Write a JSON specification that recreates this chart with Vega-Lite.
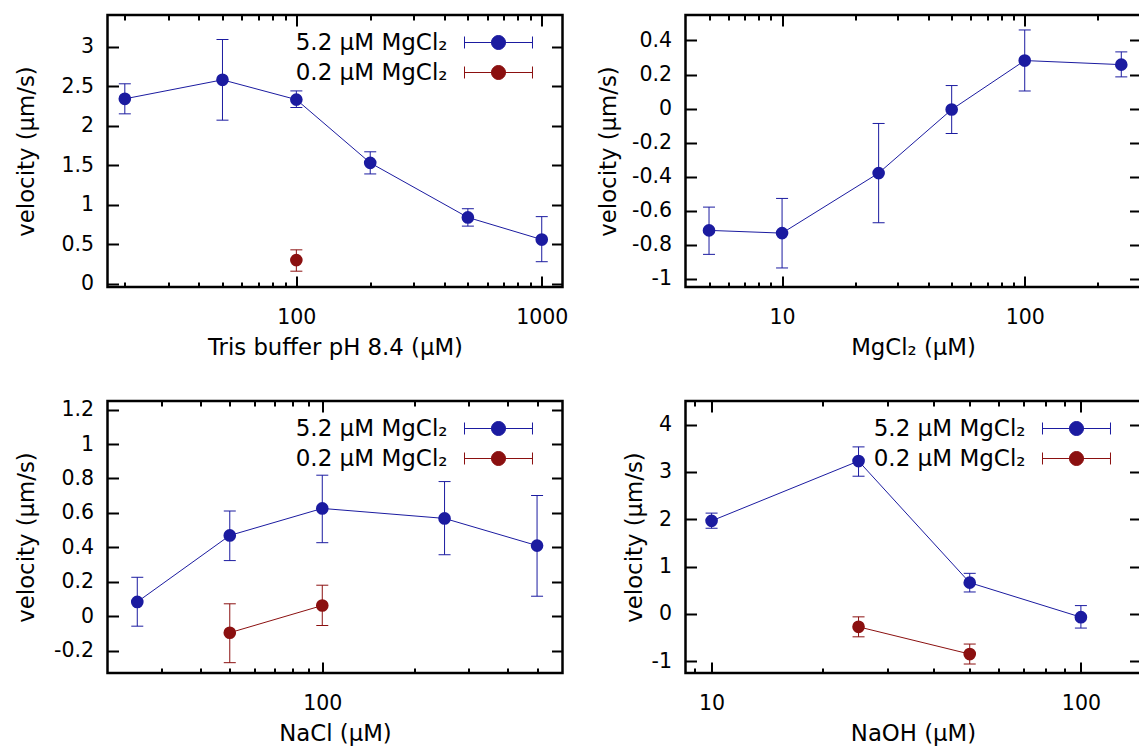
{
  "$schema": "https://vega.github.io/schema/vega-lite/v6.json",
  "padding": {"left": 13.5, "top": 12, "right": 0, "bottom": 0},
  "data": {"values": [
    {"p": 1, "s": "5.2 μM MgCl₂", "x": 20, "v": 2.34, "lo": 2.15, "hi": 2.53},
    {"p": 1, "s": "5.2 μM MgCl₂", "x": 50, "v": 2.58, "lo": 2.07, "hi": 3.09},
    {"p": 1, "s": "5.2 μM MgCl₂", "x": 100, "v": 2.33, "lo": 2.23, "hi": 2.44},
    {"p": 1, "s": "5.2 μM MgCl₂", "x": 200, "v": 1.53, "lo": 1.39, "hi": 1.67},
    {"p": 1, "s": "5.2 μM MgCl₂", "x": 500, "v": 0.84, "lo": 0.73, "hi": 0.95},
    {"p": 1, "s": "5.2 μM MgCl₂", "x": 1000, "v": 0.56, "lo": 0.28, "hi": 0.85},
    {"p": 1, "s": "0.2 μM MgCl₂", "x": 100, "v": 0.30, "lo": 0.16, "hi": 0.43},
    {"p": 2, "s": "5.2 μM MgCl₂", "x": 5, "v": -0.717, "lo": -0.858, "hi": -0.58},
    {"p": 2, "s": "5.2 μM MgCl₂", "x": 10, "v": -0.733, "lo": -0.938, "hi": -0.529},
    {"p": 2, "s": "5.2 μM MgCl₂", "x": 25, "v": -0.38, "lo": -0.672, "hi": -0.088},
    {"p": 2, "s": "5.2 μM MgCl₂", "x": 50, "v": -0.006, "lo": -0.147, "hi": 0.135},
    {"p": 2, "s": "5.2 μM MgCl₂", "x": 100, "v": 0.282, "lo": 0.103, "hi": 0.462},
    {"p": 2, "s": "5.2 μM MgCl₂", "x": 250, "v": 0.258, "lo": 0.186, "hi": 0.333},
    {"p": 3, "s": "5.2 μM MgCl₂", "x": 25, "v": 0.083, "lo": -0.058, "hi": 0.226},
    {"p": 3, "s": "5.2 μM MgCl₂", "x": 50, "v": 0.469, "lo": 0.323, "hi": 0.611},
    {"p": 3, "s": "5.2 μM MgCl₂", "x": 100, "v": 0.626, "lo": 0.427, "hi": 0.819},
    {"p": 3, "s": "5.2 μM MgCl₂", "x": 250, "v": 0.568, "lo": 0.357, "hi": 0.782},
    {"p": 3, "s": "5.2 μM MgCl₂", "x": 500, "v": 0.41, "lo": 0.116, "hi": 0.701},
    {"p": 3, "s": "0.2 μM MgCl₂", "x": 50, "v": -0.096, "lo": -0.27, "hi": 0.072},
    {"p": 3, "s": "0.2 μM MgCl₂", "x": 100, "v": 0.062, "lo": -0.054, "hi": 0.18},
    {"p": 4, "s": "5.2 μM MgCl₂", "x": 10, "v": 1.966, "lo": 1.81, "hi": 2.13},
    {"p": 4, "s": "5.2 μM MgCl₂", "x": 25, "v": 3.23, "lo": 2.91, "hi": 3.53},
    {"p": 4, "s": "5.2 μM MgCl₂", "x": 50, "v": 0.66, "lo": 0.463, "hi": 0.857},
    {"p": 4, "s": "5.2 μM MgCl₂", "x": 100, "v": -0.07, "lo": -0.30, "hi": 0.175},
    {"p": 4, "s": "0.2 μM MgCl₂", "x": 25, "v": -0.274, "lo": -0.485, "hi": -0.063},
    {"p": 4, "s": "0.2 μM MgCl₂", "x": 50, "v": -0.85, "lo": -1.06, "hi": -0.638}
  ]},
  "columns": 2,
  "spacing": {"row": 114, "column": 123},
  "bounds": "flush",
  "resolve": {"scale": {"color": "independent"}, "legend": {"color": "independent"}},
  "concat": [
    {
      "width": 455, "height": 272,
      "transform": [{"filter": "datum.p == 1"}],
      "resolve": {"axis": {"x": "independent", "y": "independent"}},
      "layer": [
        {"mark": {"type": "line", "strokeWidth": 1},
         "encoding": {
           "x": {"field": "x", "type": "quantitative", "scale": {"type": "log", "domain": [17, 1215], "nice": false},
                 "axis": {"orient": "bottom", "values": [20,30,40,50,60,70,80,90,100,200,300,400,500,600,700,800,900,1000], "labelExpr": "(datum.value == 10 || datum.value == 100 || datum.value == 1000) ? datum.value + '' : ''", "tickSize": {"condition": {"test": "datum.value == 10 || datum.value == 100 || datum.value == 1000", "value": -11}, "value": -5}, "labelPadding": 31, "title": "Tris buffer pH 8.4 (μM)", "titlePadding": 3}},
           "y": {"field": "v", "type": "quantitative", "scale": {"domain": [-0.04, 3.4], "nice": false, "zero": false},
                 "axis": {"orient": "left", "values": [0,0.5,1,1.5,2,2.5,3], "labelExpr": "datum.value + ''", "tickSize": -11, "labelPadding": 25, "title": "velocity (μm/s)", "titlePadding": 22}},
           "color": {"field": "s", "type": "nominal", "scale": {"domain": ["5.2 μM MgCl₂", "0.2 μM MgCl₂"], "range": ["#1b1ba0", "#8b1010"]},
                     "legend": {"orient": "none", "legendX": 379.5, "legendY": 16, "title": null, "padding": 0, "symbolType": "M-4.857,-0.857V0.857M-4.857,0H4.857M4.857,-0.857V0.857M1,0A1,1,0,1,1,-1,0A1,1,0,1,1,1,0Z", "symbolSize": 196, "symbolStrokeWidth": 1, "symbolStrokeColor": {"expr": "indexof(datum.label, '5.2') >= 0 ? '#1b1ba0' : '#8b1010'"}, "symbolFillColor": {"expr": "indexof(datum.label, '5.2') >= 0 ? '#1b1ba0' : '#8b1010'"}, "symbolOpacity": 1, "labelAlign": "right", "labelOffset": -62.5, "labelFontSize": 23, "labelFont": "DejaVu Sans", "labelColor": "#000", "labelLimit": 400, "rowPadding": 6}}
         }},
        {"mark": {"type": "rule", "strokeWidth": 1},
         "encoding": {
           "x": {"field": "x", "type": "quantitative", "axis": {"orient": "top", "values": [20,30,40,50,60,70,80,90,100,200,300,400,500,600,700,800,900,1000], "labels": false, "title": null, "tickSize": {"condition": {"test": "datum.value == 10 || datum.value == 100 || datum.value == 1000", "value": -11}, "value": -5}}},
           "y": {"field": "lo", "type": "quantitative", "axis": {"orient": "right", "values": [0,0.5,1,1.5,2,2.5,3], "labels": false, "title": null, "tickSize": -11}},
           "y2": {"field": "hi"},
           "color": {"field": "s", "type": "nominal",
                     "legend": {"orient": "none", "legendX": 379.5, "legendY": 16, "title": null, "padding": 0, "symbolType": "M-4.857,-0.857V0.857M-4.857,0H4.857M4.857,-0.857V0.857M1,0A1,1,0,1,1,-1,0A1,1,0,1,1,1,0Z", "symbolSize": 196, "symbolStrokeWidth": 1, "symbolStrokeColor": {"expr": "indexof(datum.label, '5.2') >= 0 ? '#1b1ba0' : '#8b1010'"}, "symbolFillColor": {"expr": "indexof(datum.label, '5.2') >= 0 ? '#1b1ba0' : '#8b1010'"}, "symbolOpacity": 1, "labelAlign": "right", "labelOffset": -62.5, "labelFontSize": 23, "labelFont": "DejaVu Sans", "labelColor": "#000", "labelLimit": 400, "rowPadding": 6}}
         }},
        {"mark": {"type": "tick", "orient": "horizontal", "size": 12, "thickness": 1, "opacity": 1},
         "encoding": {
           "x": {"field": "x", "type": "quantitative", "axis": null},
           "y": {"field": "lo", "type": "quantitative", "axis": null},
           "color": {"field": "s", "type": "nominal",
                     "legend": {"orient": "none", "legendX": 379.5, "legendY": 16, "title": null, "padding": 0, "symbolType": "M-4.857,-0.857V0.857M-4.857,0H4.857M4.857,-0.857V0.857M1,0A1,1,0,1,1,-1,0A1,1,0,1,1,1,0Z", "symbolSize": 196, "symbolStrokeWidth": 1, "symbolStrokeColor": {"expr": "indexof(datum.label, '5.2') >= 0 ? '#1b1ba0' : '#8b1010'"}, "symbolFillColor": {"expr": "indexof(datum.label, '5.2') >= 0 ? '#1b1ba0' : '#8b1010'"}, "symbolOpacity": 1, "labelAlign": "right", "labelOffset": -62.5, "labelFontSize": 23, "labelFont": "DejaVu Sans", "labelColor": "#000", "labelLimit": 400, "rowPadding": 6}}
         }},
        {"mark": {"type": "tick", "orient": "horizontal", "size": 12, "thickness": 1, "opacity": 1},
         "encoding": {
           "x": {"field": "x", "type": "quantitative", "axis": null},
           "y": {"field": "hi", "type": "quantitative", "axis": null},
           "color": {"field": "s", "type": "nominal",
                     "legend": {"orient": "none", "legendX": 379.5, "legendY": 16, "title": null, "padding": 0, "symbolType": "M-4.857,-0.857V0.857M-4.857,0H4.857M4.857,-0.857V0.857M1,0A1,1,0,1,1,-1,0A1,1,0,1,1,1,0Z", "symbolSize": 196, "symbolStrokeWidth": 1, "symbolStrokeColor": {"expr": "indexof(datum.label, '5.2') >= 0 ? '#1b1ba0' : '#8b1010'"}, "symbolFillColor": {"expr": "indexof(datum.label, '5.2') >= 0 ? '#1b1ba0' : '#8b1010'"}, "symbolOpacity": 1, "labelAlign": "right", "labelOffset": -62.5, "labelFontSize": 23, "labelFont": "DejaVu Sans", "labelColor": "#000", "labelLimit": 400, "rowPadding": 6}}
         }},
        {"mark": {"type": "point", "filled": true, "size": 160, "opacity": 1},
         "encoding": {
           "x": {"field": "x", "type": "quantitative", "axis": null},
           "y": {"field": "v", "type": "quantitative", "axis": null},
           "color": {"field": "s", "type": "nominal",
                     "legend": {"orient": "none", "legendX": 379.5, "legendY": 16, "title": null, "padding": 0, "symbolType": "M-4.857,-0.857V0.857M-4.857,0H4.857M4.857,-0.857V0.857M1,0A1,1,0,1,1,-1,0A1,1,0,1,1,1,0Z", "symbolSize": 196, "symbolStrokeWidth": 1, "symbolStrokeColor": {"expr": "indexof(datum.label, '5.2') >= 0 ? '#1b1ba0' : '#8b1010'"}, "symbolFillColor": {"expr": "indexof(datum.label, '5.2') >= 0 ? '#1b1ba0' : '#8b1010'"}, "symbolOpacity": 1, "labelAlign": "right", "labelOffset": -62.5, "labelFontSize": 23, "labelFont": "DejaVu Sans", "labelColor": "#000", "labelLimit": 400, "rowPadding": 6}}
         }}
      ]
    },
    {
      "width": 455, "height": 272,
      "transform": [{"filter": "datum.p == 2"}],
      "resolve": {"axis": {"x": "independent", "y": "independent"}},
      "layer": [
        {"mark": {"type": "line", "strokeWidth": 1},
         "encoding": {
           "x": {"field": "x", "type": "quantitative", "scale": {"type": "log", "domain": [4, 300], "nice": false},
                 "axis": {"orient": "bottom", "values": [5,6,7,8,9,10,20,30,40,50,60,70,80,90,100,200], "labelExpr": "(datum.value == 10 || datum.value == 100 || datum.value == 1000) ? datum.value + '' : ''", "tickSize": {"condition": {"test": "datum.value == 10 || datum.value == 100 || datum.value == 1000", "value": -11}, "value": -5}, "labelPadding": 31, "title": "MgCl₂ (μM)", "titlePadding": 3}},
           "y": {"field": "v", "type": "quantitative", "scale": {"domain": [-1.05, 0.55], "nice": false, "zero": false},
                 "axis": {"orient": "left", "values": [-1,-0.8,-0.6,-0.4,-0.2,0,0.2,0.4], "labelExpr": "datum.value + ''", "tickSize": -11, "labelPadding": 25, "title": "velocity (μm/s)", "titlePadding": 11}},
           "color": {"field": "s", "type": "nominal", "scale": {"domain": ["5.2 μM MgCl₂", "0.2 μM MgCl₂"], "range": ["#1b1ba0", "#8b1010"]}, "legend": null}
         }},
        {"mark": {"type": "rule", "strokeWidth": 1},
         "encoding": {
           "x": {"field": "x", "type": "quantitative", "axis": {"orient": "top", "values": [5,6,7,8,9,10,20,30,40,50,60,70,80,90,100,200], "labels": false, "title": null, "tickSize": {"condition": {"test": "datum.value == 10 || datum.value == 100 || datum.value == 1000", "value": -11}, "value": -5}}},
           "y": {"field": "lo", "type": "quantitative", "axis": {"orient": "right", "values": [-1,-0.8,-0.6,-0.4,-0.2,0,0.2,0.4], "labels": false, "title": null, "tickSize": -11}},
           "y2": {"field": "hi"},
           "color": {"field": "s", "type": "nominal", "legend": null}
         }},
        {"mark": {"type": "tick", "orient": "horizontal", "size": 12, "thickness": 1, "opacity": 1},
         "encoding": {
           "x": {"field": "x", "type": "quantitative", "axis": null},
           "y": {"field": "lo", "type": "quantitative", "axis": null},
           "color": {"field": "s", "type": "nominal", "legend": null}
         }},
        {"mark": {"type": "tick", "orient": "horizontal", "size": 12, "thickness": 1, "opacity": 1},
         "encoding": {
           "x": {"field": "x", "type": "quantitative", "axis": null},
           "y": {"field": "hi", "type": "quantitative", "axis": null},
           "color": {"field": "s", "type": "nominal", "legend": null}
         }},
        {"mark": {"type": "point", "filled": true, "size": 160, "opacity": 1},
         "encoding": {
           "x": {"field": "x", "type": "quantitative", "axis": null},
           "y": {"field": "v", "type": "quantitative", "axis": null},
           "color": {"field": "s", "type": "nominal", "legend": null}
         }}
      ]
    },
    {
      "width": 455, "height": 272,
      "transform": [{"filter": "datum.p == 3"}],
      "resolve": {"axis": {"x": "independent", "y": "independent"}},
      "layer": [
        {"mark": {"type": "line", "strokeWidth": 1},
         "encoding": {
           "x": {"field": "x", "type": "quantitative", "scale": {"type": "log", "domain": [20, 605], "nice": false},
                 "axis": {"orient": "bottom", "values": [30,40,50,60,70,80,90,100,200,300,400,500], "labelExpr": "(datum.value == 10 || datum.value == 100 || datum.value == 1000) ? datum.value + '' : ''", "tickSize": {"condition": {"test": "datum.value == 10 || datum.value == 100 || datum.value == 1000", "value": -11}, "value": -5}, "labelPadding": 31, "title": "NaCl (μM)", "titlePadding": 3}},
           "y": {"field": "v", "type": "quantitative", "scale": {"domain": [-0.33, 1.25], "nice": false, "zero": false},
                 "axis": {"orient": "left", "values": [-0.2,0,0.2,0.4,0.6,0.8,1,1.2], "labelExpr": "datum.value + ''", "tickSize": -11, "labelPadding": 25, "title": "velocity (μm/s)", "titlePadding": 15}},
           "color": {"field": "s", "type": "nominal", "scale": {"domain": ["5.2 μM MgCl₂", "0.2 μM MgCl₂"], "range": ["#1b1ba0", "#8b1010"]},
                     "legend": {"orient": "none", "legendX": 379.5, "legendY": 16, "title": null, "padding": 0, "symbolType": "M-4.857,-0.857V0.857M-4.857,0H4.857M4.857,-0.857V0.857M1,0A1,1,0,1,1,-1,0A1,1,0,1,1,1,0Z", "symbolSize": 196, "symbolStrokeWidth": 1, "symbolStrokeColor": {"expr": "indexof(datum.label, '5.2') >= 0 ? '#1b1ba0' : '#8b1010'"}, "symbolFillColor": {"expr": "indexof(datum.label, '5.2') >= 0 ? '#1b1ba0' : '#8b1010'"}, "symbolOpacity": 1, "labelAlign": "right", "labelOffset": -62.5, "labelFontSize": 23, "labelFont": "DejaVu Sans", "labelColor": "#000", "labelLimit": 400, "rowPadding": 6}}
         }},
        {"mark": {"type": "rule", "strokeWidth": 1},
         "encoding": {
           "x": {"field": "x", "type": "quantitative", "axis": {"orient": "top", "values": [30,40,50,60,70,80,90,100,200,300,400,500], "labels": false, "title": null, "tickSize": {"condition": {"test": "datum.value == 10 || datum.value == 100 || datum.value == 1000", "value": -11}, "value": -5}}},
           "y": {"field": "lo", "type": "quantitative", "axis": {"orient": "right", "values": [-0.2,0,0.2,0.4,0.6,0.8,1,1.2], "labels": false, "title": null, "tickSize": -11}},
           "y2": {"field": "hi"},
           "color": {"field": "s", "type": "nominal",
                     "legend": {"orient": "none", "legendX": 379.5, "legendY": 16, "title": null, "padding": 0, "symbolType": "M-4.857,-0.857V0.857M-4.857,0H4.857M4.857,-0.857V0.857M1,0A1,1,0,1,1,-1,0A1,1,0,1,1,1,0Z", "symbolSize": 196, "symbolStrokeWidth": 1, "symbolStrokeColor": {"expr": "indexof(datum.label, '5.2') >= 0 ? '#1b1ba0' : '#8b1010'"}, "symbolFillColor": {"expr": "indexof(datum.label, '5.2') >= 0 ? '#1b1ba0' : '#8b1010'"}, "symbolOpacity": 1, "labelAlign": "right", "labelOffset": -62.5, "labelFontSize": 23, "labelFont": "DejaVu Sans", "labelColor": "#000", "labelLimit": 400, "rowPadding": 6}}
         }},
        {"mark": {"type": "tick", "orient": "horizontal", "size": 12, "thickness": 1, "opacity": 1},
         "encoding": {
           "x": {"field": "x", "type": "quantitative", "axis": null},
           "y": {"field": "lo", "type": "quantitative", "axis": null},
           "color": {"field": "s", "type": "nominal",
                     "legend": {"orient": "none", "legendX": 379.5, "legendY": 16, "title": null, "padding": 0, "symbolType": "M-4.857,-0.857V0.857M-4.857,0H4.857M4.857,-0.857V0.857M1,0A1,1,0,1,1,-1,0A1,1,0,1,1,1,0Z", "symbolSize": 196, "symbolStrokeWidth": 1, "symbolStrokeColor": {"expr": "indexof(datum.label, '5.2') >= 0 ? '#1b1ba0' : '#8b1010'"}, "symbolFillColor": {"expr": "indexof(datum.label, '5.2') >= 0 ? '#1b1ba0' : '#8b1010'"}, "symbolOpacity": 1, "labelAlign": "right", "labelOffset": -62.5, "labelFontSize": 23, "labelFont": "DejaVu Sans", "labelColor": "#000", "labelLimit": 400, "rowPadding": 6}}
         }},
        {"mark": {"type": "tick", "orient": "horizontal", "size": 12, "thickness": 1, "opacity": 1},
         "encoding": {
           "x": {"field": "x", "type": "quantitative", "axis": null},
           "y": {"field": "hi", "type": "quantitative", "axis": null},
           "color": {"field": "s", "type": "nominal",
                     "legend": {"orient": "none", "legendX": 379.5, "legendY": 16, "title": null, "padding": 0, "symbolType": "M-4.857,-0.857V0.857M-4.857,0H4.857M4.857,-0.857V0.857M1,0A1,1,0,1,1,-1,0A1,1,0,1,1,1,0Z", "symbolSize": 196, "symbolStrokeWidth": 1, "symbolStrokeColor": {"expr": "indexof(datum.label, '5.2') >= 0 ? '#1b1ba0' : '#8b1010'"}, "symbolFillColor": {"expr": "indexof(datum.label, '5.2') >= 0 ? '#1b1ba0' : '#8b1010'"}, "symbolOpacity": 1, "labelAlign": "right", "labelOffset": -62.5, "labelFontSize": 23, "labelFont": "DejaVu Sans", "labelColor": "#000", "labelLimit": 400, "rowPadding": 6}}
         }},
        {"mark": {"type": "point", "filled": true, "size": 160, "opacity": 1},
         "encoding": {
           "x": {"field": "x", "type": "quantitative", "axis": null},
           "y": {"field": "v", "type": "quantitative", "axis": null},
           "color": {"field": "s", "type": "nominal",
                     "legend": {"orient": "none", "legendX": 379.5, "legendY": 16, "title": null, "padding": 0, "symbolType": "M-4.857,-0.857V0.857M-4.857,0H4.857M4.857,-0.857V0.857M1,0A1,1,0,1,1,-1,0A1,1,0,1,1,1,0Z", "symbolSize": 196, "symbolStrokeWidth": 1, "symbolStrokeColor": {"expr": "indexof(datum.label, '5.2') >= 0 ? '#1b1ba0' : '#8b1010'"}, "symbolFillColor": {"expr": "indexof(datum.label, '5.2') >= 0 ? '#1b1ba0' : '#8b1010'"}, "symbolOpacity": 1, "labelAlign": "right", "labelOffset": -62.5, "labelFontSize": 23, "labelFont": "DejaVu Sans", "labelColor": "#000", "labelLimit": 400, "rowPadding": 6}}
         }}
      ]
    },
    {
      "width": 455, "height": 272,
      "transform": [{"filter": "datum.p == 4"}],
      "resolve": {"axis": {"x": "independent", "y": "independent"}},
      "layer": [
        {"mark": {"type": "line", "strokeWidth": 1},
         "encoding": {
           "x": {"field": "x", "type": "quantitative", "scale": {"type": "log", "domain": [8.5, 145], "nice": false},
                 "axis": {"orient": "bottom", "values": [9,10,20,30,40,50,60,70,80,90,100], "labelExpr": "(datum.value == 10 || datum.value == 100 || datum.value == 1000) ? datum.value + '' : ''", "tickSize": {"condition": {"test": "datum.value == 10 || datum.value == 100 || datum.value == 1000", "value": -11}, "value": -5}, "labelPadding": 31, "title": "NaOH (μM)", "titlePadding": 3}},
           "y": {"field": "v", "type": "quantitative", "scale": {"domain": [-1.25, 4.5], "nice": false, "zero": false},
                 "axis": {"orient": "left", "values": [-1,0,1,2,3,4], "labelExpr": "datum.value + ''", "tickSize": -11, "labelPadding": 25, "title": "velocity (μm/s)", "titlePadding": 4.5}},
           "color": {"field": "s", "type": "nominal", "scale": {"domain": ["5.2 μM MgCl₂", "0.2 μM MgCl₂"], "range": ["#1b1ba0", "#8b1010"]},
                     "legend": {"orient": "none", "legendX": 379.5, "legendY": 16, "title": null, "padding": 0, "symbolType": "M-4.857,-0.857V0.857M-4.857,0H4.857M4.857,-0.857V0.857M1,0A1,1,0,1,1,-1,0A1,1,0,1,1,1,0Z", "symbolSize": 196, "symbolStrokeWidth": 1, "symbolStrokeColor": {"expr": "indexof(datum.label, '5.2') >= 0 ? '#1b1ba0' : '#8b1010'"}, "symbolFillColor": {"expr": "indexof(datum.label, '5.2') >= 0 ? '#1b1ba0' : '#8b1010'"}, "symbolOpacity": 1, "labelAlign": "right", "labelOffset": -62.5, "labelFontSize": 23, "labelFont": "DejaVu Sans", "labelColor": "#000", "labelLimit": 400, "rowPadding": 6}}
         }},
        {"mark": {"type": "rule", "strokeWidth": 1},
         "encoding": {
           "x": {"field": "x", "type": "quantitative", "axis": {"orient": "top", "values": [9,10,20,30,40,50,60,70,80,90,100], "labels": false, "title": null, "tickSize": {"condition": {"test": "datum.value == 10 || datum.value == 100 || datum.value == 1000", "value": -11}, "value": -5}}},
           "y": {"field": "lo", "type": "quantitative", "axis": {"orient": "right", "values": [-1,0,1,2,3,4], "labels": false, "title": null, "tickSize": -11}},
           "y2": {"field": "hi"},
           "color": {"field": "s", "type": "nominal",
                     "legend": {"orient": "none", "legendX": 379.5, "legendY": 16, "title": null, "padding": 0, "symbolType": "M-4.857,-0.857V0.857M-4.857,0H4.857M4.857,-0.857V0.857M1,0A1,1,0,1,1,-1,0A1,1,0,1,1,1,0Z", "symbolSize": 196, "symbolStrokeWidth": 1, "symbolStrokeColor": {"expr": "indexof(datum.label, '5.2') >= 0 ? '#1b1ba0' : '#8b1010'"}, "symbolFillColor": {"expr": "indexof(datum.label, '5.2') >= 0 ? '#1b1ba0' : '#8b1010'"}, "symbolOpacity": 1, "labelAlign": "right", "labelOffset": -62.5, "labelFontSize": 23, "labelFont": "DejaVu Sans", "labelColor": "#000", "labelLimit": 400, "rowPadding": 6}}
         }},
        {"mark": {"type": "tick", "orient": "horizontal", "size": 12, "thickness": 1, "opacity": 1},
         "encoding": {
           "x": {"field": "x", "type": "quantitative", "axis": null},
           "y": {"field": "lo", "type": "quantitative", "axis": null},
           "color": {"field": "s", "type": "nominal",
                     "legend": {"orient": "none", "legendX": 379.5, "legendY": 16, "title": null, "padding": 0, "symbolType": "M-4.857,-0.857V0.857M-4.857,0H4.857M4.857,-0.857V0.857M1,0A1,1,0,1,1,-1,0A1,1,0,1,1,1,0Z", "symbolSize": 196, "symbolStrokeWidth": 1, "symbolStrokeColor": {"expr": "indexof(datum.label, '5.2') >= 0 ? '#1b1ba0' : '#8b1010'"}, "symbolFillColor": {"expr": "indexof(datum.label, '5.2') >= 0 ? '#1b1ba0' : '#8b1010'"}, "symbolOpacity": 1, "labelAlign": "right", "labelOffset": -62.5, "labelFontSize": 23, "labelFont": "DejaVu Sans", "labelColor": "#000", "labelLimit": 400, "rowPadding": 6}}
         }},
        {"mark": {"type": "tick", "orient": "horizontal", "size": 12, "thickness": 1, "opacity": 1},
         "encoding": {
           "x": {"field": "x", "type": "quantitative", "axis": null},
           "y": {"field": "hi", "type": "quantitative", "axis": null},
           "color": {"field": "s", "type": "nominal",
                     "legend": {"orient": "none", "legendX": 379.5, "legendY": 16, "title": null, "padding": 0, "symbolType": "M-4.857,-0.857V0.857M-4.857,0H4.857M4.857,-0.857V0.857M1,0A1,1,0,1,1,-1,0A1,1,0,1,1,1,0Z", "symbolSize": 196, "symbolStrokeWidth": 1, "symbolStrokeColor": {"expr": "indexof(datum.label, '5.2') >= 0 ? '#1b1ba0' : '#8b1010'"}, "symbolFillColor": {"expr": "indexof(datum.label, '5.2') >= 0 ? '#1b1ba0' : '#8b1010'"}, "symbolOpacity": 1, "labelAlign": "right", "labelOffset": -62.5, "labelFontSize": 23, "labelFont": "DejaVu Sans", "labelColor": "#000", "labelLimit": 400, "rowPadding": 6}}
         }},
        {"mark": {"type": "point", "filled": true, "size": 160, "opacity": 1},
         "encoding": {
           "x": {"field": "x", "type": "quantitative", "axis": null},
           "y": {"field": "v", "type": "quantitative", "axis": null},
           "color": {"field": "s", "type": "nominal",
                     "legend": {"orient": "none", "legendX": 379.5, "legendY": 16, "title": null, "padding": 0, "symbolType": "M-4.857,-0.857V0.857M-4.857,0H4.857M4.857,-0.857V0.857M1,0A1,1,0,1,1,-1,0A1,1,0,1,1,1,0Z", "symbolSize": 196, "symbolStrokeWidth": 1, "symbolStrokeColor": {"expr": "indexof(datum.label, '5.2') >= 0 ? '#1b1ba0' : '#8b1010'"}, "symbolFillColor": {"expr": "indexof(datum.label, '5.2') >= 0 ? '#1b1ba0' : '#8b1010'"}, "symbolOpacity": 1, "labelAlign": "right", "labelOffset": -62.5, "labelFontSize": 23, "labelFont": "DejaVu Sans", "labelColor": "#000", "labelLimit": 400, "rowPadding": 6}}
         }}
      ]
    }
  ],
  "config": {
    "font": "DejaVu Sans",
    "background": "#ffffff",
    "view": {"stroke": "#000000", "strokeWidth": 2.5},
    "axis": {"domain": false, "grid": false, "tickColor": "#000000", "tickWidth": 2, "labelColor": "#000000", "titleColor": "#000000",
             "labelFont": "DejaVu Sans", "labelFontSize": 20.5, "titleFont": "DejaVu Sans", "titleFontSize": 22.8, "titleFontWeight": "normal",
             "labelOverlap": false, "labelFlush": false, "labelBound": false}
  }
}
